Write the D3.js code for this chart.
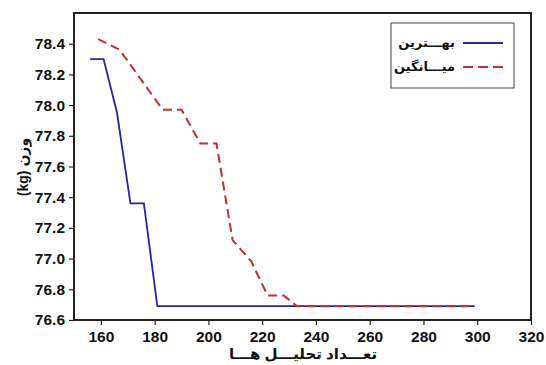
<!DOCTYPE html>
<html>
<head>
<meta charset="utf-8">
<script src="https://cdn.jsdelivr.net/npm/d3@7"></script>
<style>
  html, body { margin: 0; padding: 0; background: #fff; }
  svg { display: block; }
  text { font-family: Arial, "Liberation Sans", "DejaVu Sans", sans-serif; }
</style>
</head>
<body>
<svg id="chart" width="546" height="365"></svg>
<script>
// Best and mean weight per number of analyses
const bestIter   = [156, 161, 166, 171, 176, 181, 299];
const bestWeight = [78.30, 78.30, 77.95, 77.36, 77.36, 76.69, 76.69];
const meanIter   = [159, 167, 183, 190, 197, 203, 209, 216, 222, 228, 233, 299];
const meanWeight = [78.43, 78.36, 77.97, 77.97, 77.75, 77.75, 77.12, 76.98, 76.76, 76.76, 76.69, 76.69];

const xTicks = [160, 180, 200, 220, 240, 260, 280, 300, 320];
const yTicks = [76.6, 76.8, 77.0, 77.2, 77.4, 77.6, 77.8, 78.0, 78.2, 78.4];

const seriesNames = ["بهـــترین", "میـــانگین"];
const xTitle = "تعـــداد تحلیـــل هـــا";
const yTitle = "(kg) وزن";

const svg = d3.select("#chart");
const m = { left: 74, top: 13, right: 531, bottom: 320 };

const x = d3.scaleLinear().domain([150, 320]).range([m.left, m.right]);
const y = d3.scaleLinear().domain([76.6, 78.6]).range([m.bottom, m.top]);

// axes
const xAxis = svg.append("g")
  .attr("transform", `translate(0,${m.bottom})`)
  .call(d3.axisBottom(x).tickValues(xTicks).tickFormat(d3.format("d")).tickSize(5).tickPadding(6));
const yAxis = svg.append("g")
  .attr("transform", `translate(${m.left},0)`)
  .call(d3.axisLeft(y).tickValues(yTicks).tickFormat(d3.format(".1f")).tickSize(5).tickPadding(4));

[xAxis, yAxis].forEach(g => {
  g.select(".domain").remove();
  g.selectAll(".tick line").attr("stroke", "#222").attr("stroke-width", 1.2);
  g.selectAll(".tick text")
    .attr("fill", "#111")
    .style("font-size", "15.5px")
    .style("font-weight", "bold");
});

// frame
svg.append("rect")
  .attr("x", m.left).attr("y", m.top)
  .attr("width", m.right - m.left).attr("height", m.bottom - m.top)
  .attr("fill", "none").attr("stroke", "#222").attr("stroke-width", 2);

const line = d3.line().x(d => x(d[0])).y(d => y(d[1]));

svg.append("path")
  .datum(d3.zip(bestIter, bestWeight))
  .attr("d", line)
  .attr("fill", "none")
  .attr("stroke", "#2424a8")
  .attr("stroke-width", 1.8);

svg.append("path")
  .datum(d3.zip(meanIter, meanWeight))
  .attr("d", line)
  .attr("fill", "none")
  .attr("stroke", "#c03030")
  .attr("stroke-width", 2)
  .attr("stroke-dasharray", "9,5");

// legend
const lg = svg.append("g");
lg.append("rect")
  .attr("x", 391).attr("y", 23).attr("width", 123).attr("height", 65)
  .attr("fill", "#fff").attr("stroke", "#444").attr("stroke-width", 1);
const legendItems = [
  { name: seriesNames[0], color: "#2424a8", dash: null, yy: 43 },
  { name: seriesNames[1], color: "#c03030", dash: "10,5", yy: 67 }
];
legendItems.forEach(it => {
  lg.append("line")
    .attr("x1", 463).attr("x2", 503).attr("y1", it.yy).attr("y2", it.yy)
    .attr("stroke", it.color).attr("stroke-width", 2)
    .attr("stroke-dasharray", it.dash);
  lg.append("text")
    .attr("x", 455).attr("y", it.yy + 4)
    .attr("text-anchor", "end")
    .style("font-size", "13px")
    .style("font-weight", "bold")
    .attr("fill", "#111")
    .text(it.name);
});

// axis titles
svg.append("text")
  .attr("x", 303).attr("y", 359)
  .attr("text-anchor", "middle")
  .style("font-size", "15px").style("font-weight", "bold")
  .attr("fill", "#111")
  .text(xTitle);

svg.append("text")
  .attr("transform", "translate(28,167) rotate(-90)")
  .attr("text-anchor", "middle")
  .style("font-size", "14px").style("font-weight", "bold")
  .attr("fill", "#111")
  .text(yTitle);
</script>
</body>
</html>
